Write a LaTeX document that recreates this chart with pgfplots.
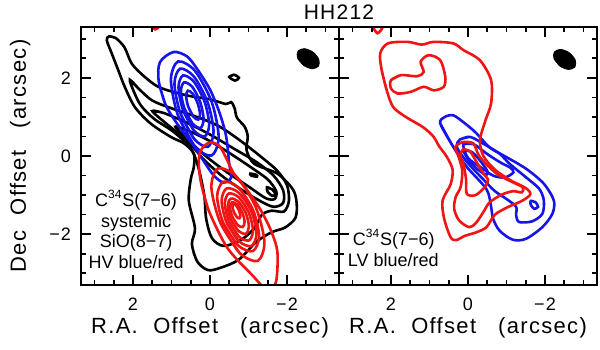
\documentclass[border=0pt]{standalone}
\usepackage{fontspec}
\setmainfont{Liberation Sans}
\newfontfamily\widefont[LetterSpace=6]{Liberation Sans}
\usepackage{pgfplots}
\pgfplotsset{compat=1.18}
\definecolor{cblue}{RGB}{20,20,235}
\definecolor{cred}{RGB}{240,20,20}

\pgfplotsset{
  panel/.style={scale only axis, width=129pt, height=129pt,
    xmin=-3.35, xmax=3.35, ymin=-3.3, ymax=3.3, x dir=reverse,
    xtick={-2,0,2}, ytick={-2,0,2}, xticklabels={−2,0,2},
    minor xtick={-3,-2.5,...,3}, minor ytick={-3,-2.5,...,3},
    tick align=inside, major tick length=5pt, minor tick length=2.5pt,
    every tick/.style={black, line width=0.8pt},
    axis line style={line width=1pt},
    tick label style={font=\widefont\fontsize{9}{10}\selectfont},
    xticklabel style={yshift=-3pt},
    yticklabel style={xshift=-1.5pt},
    label style={font=\widefont\fontsize{11}{12}\selectfont},
    xlabel style={at={(axis description cs:0.5,-0.165)}, anchor=center},
    xlabel={R.A.\hspace{0.7em}Offset\hspace{1em}(arcsec)},
    axis on top},
  cont/.style={smooth, line width=1.3pt, mark=none},
}

\begin{document}
\begin{tikzpicture}
\path[use as bounding box] (-40.5pt,-32pt) rectangle (259.5pt,142.5pt);

% ---- left panel: C34S systemic (black), SiO HV blue/red
\begin{axis}[panel, name=pa, yticklabels={−2,0,2},
  ylabel={Dec\hspace{0.7em}Offset\hspace{1em}(arcsec)},
  ylabel style={at={(axis description cs:-0.236,0.5)}, anchor=center}]
% black contours
\addplot[cont, black] coordinates {(2.62,3.06) (2.45,3.02) (2.22,2.78) (2.03,2.36) (1.69,2.02) (1.3,1.75) (0.6,1.55) (0.0,1.45) (-0.41,1.33) (-0.55,1.38) (-0.64,1.22) (-0.7,0.98) (-0.9,0.75) (-0.98,0.5) (-0.95,0.15) (-1.15,-0.2) (-1.75,-0.45) (-2.15,-0.85) (-2.25,-1.2) (-2.22,-1.58) (-1.95,-1.83) (-1.6,-1.95) (-1.2,-2.2) (-0.75,-2.65) (-0.3,-2.85) (0.05,-2.92) (0.33,-2.7) (0.47,-2.25) (0.39,-1.85) (0.55,-1.15) (0.5,-0.6) (0.42,-0.28) (0.42,0.06) (0.67,0.32) (1.02,0.49) (1.54,0.83) (1.95,1.25) (2.21,1.76) (2.38,2.19) (2.55,2.62) (2.68,2.96) (2.62,3.06) (2.45,3.02)};
\addplot[cont, black] coordinates {(2.08,1.95) (1.85,1.72) (1.5,1.42) (1.0,1.22) (0.4,1.02) (-0.2,0.78) (-0.75,0.42) (-1.3,0.0) (-1.75,-0.38) (-2.0,-0.75) (-2.05,-1.15) (-1.92,-1.42) (-1.6,-1.4) (-1.35,-1.5) (-1.15,-1.85) (-0.8,-2.15) (-0.35,-2.3) (-0.05,-2.1) (0.1,-1.6) (0.15,-1.0) (0.3,-0.3) (0.5,0.2) (0.95,0.62) (1.45,0.95) (1.8,1.3) (2.0,1.7) (2.08,1.95) (1.85,1.72)};
\addplot[cont, black] coordinates {(1.5,1.15) (1.2,1.1) (0.6,0.85) (0.0,0.55) (-0.6,0.2) (-1.2,-0.15) (-1.65,-0.5) (-1.9,-0.88) (-1.9,-1.2) (-1.65,-1.3) (-1.3,-1.15) (-0.8,-0.85) (-0.3,-0.5) (0.15,-0.1) (0.6,0.4) (1.1,0.8) (1.5,1.15) (1.2,1.1)};
\addplot[cont, black] coordinates {(0.9,0.75) (0.5,0.62) (0.0,0.38) (-0.5,0.08) (-1.05,-0.28) (-1.5,-0.6) (-1.72,-0.9) (-1.68,-1.1) (-1.45,-1.08) (-1.0,-0.78) (-0.45,-0.42) (0.05,-0.05) (0.5,0.35) (0.9,0.75) (0.5,0.62)};
\addplot[cont, black] coordinates {(-1.48,-0.8) (-1.62,-0.86) (-1.7,-0.98) (-1.62,-1.02) (-1.5,-0.92) (-1.48,-0.8) (-1.62,-0.86)};
\addplot[cont, black] coordinates {(-1.05,-0.45) (-1.2,-0.48) (-1.22,-0.53) (-1.07,-0.5) (-1.05,-0.45) (-1.2,-0.48)};
\addplot[cont, black] coordinates {(-0.5,2.02) (-0.62,2.08) (-0.75,2.0) (-0.65,1.93) (-0.5,2.02) (-0.62,2.08)};
% blue high-velocity lobe
\addplot[cont, cblue] coordinates {(1.15,1.3) (1.33,1.9) (1.3,2.4) (0.95,2.66) (0.6,2.55) (0.35,2.25) (0.0,1.7) (-0.25,1.1) (-0.42,0.5) (-0.5,-0.2) (-0.55,-0.55) (-0.35,-0.68) (-0.1,-0.5) (0.15,-0.15) (0.45,0.3) (0.8,0.75) (1.15,1.3) (1.33,1.9)};
\addplot[cont, cblue] coordinates {(0.837,1.055) (0.399,0.251) (-0.040,0.012) (-0.225,0.477) (-0.047,1.375) (0.391,2.179) (0.830,2.418) (1.015,1.953) (0.837,1.055) (0.399,0.251)};
\addplot[cont, cblue] coordinates {(0.772,1.106) (0.413,0.438) (0.054,0.236) (-0.093,0.620) (0.058,1.364) (0.417,2.032) (0.776,2.234) (0.923,1.850) (0.772,1.106) (0.413,0.438)};
\addplot[cont, cblue] coordinates {(0.702,1.178) (0.420,0.656) (0.138,0.500) (0.022,0.800) (0.138,1.382) (0.420,1.904) (0.702,2.060) (0.818,1.760) (0.702,1.178) (0.420,0.656)};
\addplot[cont, cblue] coordinates {(0.667,1.225) (0.457,0.835) (0.249,0.717) (0.165,0.941) (0.253,1.375) (0.457,1.765) (0.671,1.883) (0.755,1.659) (0.667,1.225) (0.457,0.835)};
\addplot[cont, cblue] coordinates {(0.562,1.256) (0.431,1.007) (0.306,0.929) (0.259,1.069) (0.318,1.344) (0.449,1.593) (0.574,1.671) (0.621,1.531) (0.562,1.256) (0.431,1.007)};
% red high-velocity lobe
\addplot[cont, cred] coordinates {(0.22,-0.75) (0.05,-1.35) (-0.2,-1.9) (-0.45,-2.35) (-0.75,-2.7) (-1.1,-3.05) (-1.35,-3.32) (-1.55,-3.42) (-1.72,-3.2) (-1.75,-2.45) (-1.58,-1.9) (-1.32,-1.39) (-0.97,-0.88) (-0.62,-0.45) (-0.41,-0.03) (-0.23,0.27) (0.03,0.34) (0.25,0.12) (0.29,-0.25) (0.22,-0.75) (0.05,-1.35)};
\addplot[cont, cred] coordinates {(-0.266,-1.700) (-0.766,-2.477) (-1.241,-2.683) (-1.414,-2.195) (-1.184,-1.300) (-0.684,-0.523) (-0.209,-0.317) (-0.036,-0.805) (-0.266,-1.700) (-0.766,-2.477)};
\addplot[cont, cred] coordinates {(-0.345,-1.713) (-0.731,-2.290) (-1.116,-2.431) (-1.275,-2.052) (-1.115,-1.377) (-0.729,-0.800) (-0.344,-0.659) (-0.185,-1.038) (-0.345,-1.713) (-0.731,-2.290)};
\addplot[cont, cred] coordinates {(-0.434,-1.705) (-0.755,-2.184) (-1.076,-2.301) (-1.209,-1.986) (-1.076,-1.425) (-0.755,-0.946) (-0.434,-0.829) (-0.301,-1.144) (-0.434,-1.705) (-0.755,-2.184)};
\addplot[cont, cred] coordinates {(-0.493,-1.672) (-0.753,-2.063) (-1.012,-2.160) (-1.117,-1.905) (-1.007,-1.448) (-0.747,-1.057) (-0.488,-0.960) (-0.383,-1.215) (-0.493,-1.672) (-0.753,-2.063)};
\addplot[cont, cred] coordinates {(-0.542,-1.624) (-0.738,-1.917) (-0.931,-1.989) (-1.010,-1.799) (-0.928,-1.456) (-0.732,-1.163) (-0.539,-1.091) (-0.460,-1.281) (-0.542,-1.624) (-0.738,-1.917)};
\addplot[cont, cred] coordinates {(-0.582,-1.556) (-0.717,-1.764) (-0.848,-1.816) (-0.899,-1.684) (-0.838,-1.444) (-0.703,-1.236) (-0.572,-1.184) (-0.521,-1.316) (-0.582,-1.556) (-0.717,-1.764)};
\addplot[cont, cred] coordinates {(-0.621,-1.438) (-0.697,-1.560) (-0.765,-1.593) (-0.787,-1.520) (-0.749,-1.382) (-0.673,-1.260) (-0.605,-1.227) (-0.583,-1.300) (-0.621,-1.438) (-0.697,-1.560)};
\addplot[cont, cred] coordinates {(1.52,3.32) (1.42,3.24) (1.32,3.32) (1.42,3.42) (1.52,3.32) (1.42,3.24)};
% beam
\addplot[smooth, fill=black, draw=black, line width=0.4pt, mark=none] coordinates {(-2.427,2.320) (-2.274,2.507) (-2.283,2.683) (-2.448,2.747) (-2.673,2.660) (-2.826,2.473) (-2.817,2.297) (-2.652,2.233) (-2.427,2.320) (-2.274,2.507)};
\node[align=center, inner sep=0pt, font=\fontsize{9}{10.3}\selectfont] at (axis cs:1.92,-1.88)
  {C\textsuperscript{34}S(7−6)\\systemic\\SiO(8−7)\\HV blue/red};
\end{axis}

% ---- right panel: C34S LV blue/red
\begin{axis}[panel, name=pb, at={(pa.south east)}, anchor=south west, yticklabels={,,}]
\addplot[cont, cblue] coordinates {(0.38,0.23) (0.72,0.83) (0.6,1.0) (0.38,1.04) (0.1,0.85) (-0.2,0.6) (-0.56,0.22) (-0.91,0.02) (-1.5,-0.32) (-1.97,-0.71) (-2.23,-1.14) (-2.19,-1.48) (-1.93,-1.82) (-1.5,-2.12) (-1.16,-2.14) (-0.82,-1.91) (-0.65,-1.6) (-0.6,-1.3) (-0.48,-0.85) (0.03,-0.28) (0.38,0.23) (0.72,0.83)};
\addplot[cont, cblue] coordinates {(0.21,0.42) (-0.05,0.49) (-0.39,0.32) (-0.82,0.06) (-1.08,-0.2) (-1.5,-0.54) (-1.85,-0.84) (-1.97,-1.14) (-1.93,-1.48) (-1.67,-1.67) (-1.33,-1.69) (-1.25,-1.52) (-1.25,-1.3) (-1.0,-1.1) (-0.7,-0.9) (-0.4,-0.6) (0.03,-0.15) (0.29,0.23) (0.21,0.42) (-0.05,0.49)};
\addplot[cont, cblue] coordinates {(0.12,0.3) (-0.15,0.3) (-0.5,0.05) (-0.85,-0.17) (-1.1,-0.3) (-1.18,-0.42) (-0.95,-0.55) (-0.65,-0.5) (-0.35,-0.3) (0.0,-0.05) (0.12,0.3) (-0.15,0.3)};
\addplot[cont, cblue] coordinates {(0.12,0.15) (-0.1,0.1) (-0.3,-0.1) (-0.5,-0.38) (-0.48,-0.48) (-0.3,-0.38) (-0.05,-0.15) (0.12,0.15) (-0.1,0.1)};
\addplot[cont, cblue] coordinates {(-1.63,-1.15) (-1.75,-1.18) (-1.82,-1.3) (-1.72,-1.35) (-1.63,-1.25) (-1.63,-1.15) (-1.75,-1.18)};
\addplot[cont, cred] coordinates {(2.11,1.68) (2.24,2.19) (2.28,2.62) (2.08,2.88) (1.57,2.92) (1.2,2.85) (0.89,2.92) (0.38,2.88) (0.12,2.71) (-0.31,2.45) (-0.6,1.94) (-0.6,1.35) (-0.45,0.9) (-0.31,0.4) (-0.4,0.0) (-0.7,-0.35) (-1.1,-0.62) (-1.5,-0.82) (-1.62,-0.98) (-1.4,-1.15) (-1.05,-1.3) (-0.7,-1.5) (-0.48,-1.82) (-0.22,-1.95) (0.1,-2.05) (0.3,-2.15) (0.45,-2.08) (0.62,-1.6) (0.66,-1.14) (0.45,-0.72) (0.4,-0.35) (0.55,-0.02) (0.75,0.25) (0.9,0.5) (1.17,0.74) (1.6,0.99) (1.94,1.25) (2.11,1.68) (2.24,2.19)};
\addplot[cont, cred] coordinates {(2.0,1.94) (1.74,2.07) (1.32,2.04) (1.15,2.15) (1.23,2.41) (1.02,2.58) (0.72,2.45) (0.59,2.03) (0.63,1.77) (0.89,1.68) (1.15,1.77) (1.49,1.64) (1.83,1.6) (2.0,1.73) (2.0,1.94) (1.74,2.07)};
\addplot[cont, cred] coordinates {(0.12,0.36) (-0.14,0.32) (-0.31,-0.03) (-0.74,-0.45) (-1.16,-0.67) (-1.42,-0.8) (-1.4,-0.93) (-1.16,-0.9) (-0.85,-1.0) (-0.55,-1.2) (-0.39,-1.45) (-0.2,-1.72) (-0.03,-1.82) (0.23,-1.65) (0.36,-1.35) (0.32,-1.05) (0.19,-0.79) (0.15,-0.37) (0.25,0.0) (0.33,0.23) (0.12,0.36) (-0.14,0.32)};
\addplot[cont, cred] coordinates {(0.12,0.17) (-0.05,0.12) (-0.22,-0.15) (-0.4,-0.45) (-0.52,-0.6) (-0.45,-0.78) (-0.2,-1.0) (0.03,-0.97) (0.05,-0.6) (0.12,-0.2) (0.2,0.0) (0.12,0.17) (-0.05,0.12)};
\addplot[cont, cred] coordinates {(2.47,3.3) (2.35,3.14) (2.22,3.3) (2.35,3.45) (2.47,3.3) (2.35,3.14)};
\addplot[smooth, fill=black, draw=black, line width=0.4pt, mark=none] coordinates {(-2.387,2.300) (-2.234,2.487) (-2.243,2.663) (-2.408,2.727) (-2.633,2.640) (-2.786,2.453) (-2.777,2.277) (-2.612,2.213) (-2.387,2.300) (-2.234,2.487)};
\node[align=left, anchor=west, inner sep=0pt, font=\fontsize{9}{10.3}\selectfont] at (axis cs:3.13,-2.35)
  {\hspace*{2.5pt}C\textsuperscript{34}S(7−6)\\LV blue/red};
\end{axis}

\node[font=\widefont\fontsize{10.5}{12}\selectfont] at ([yshift=7.5pt]pa.north east) {HH212};
\end{tikzpicture}
\end{document}
